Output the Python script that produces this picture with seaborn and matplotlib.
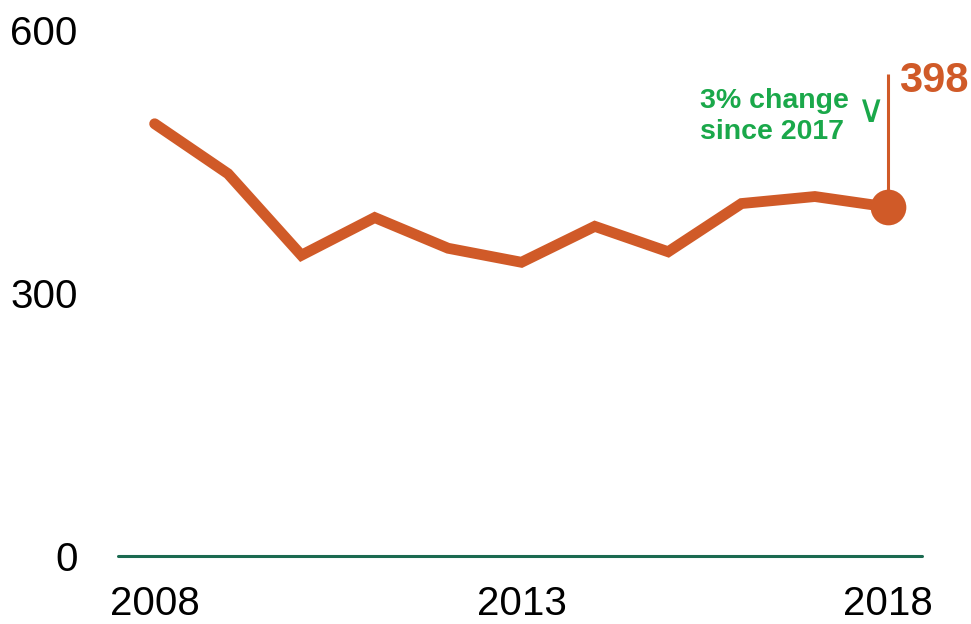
import pandas as pd
import matplotlib.pyplot as plt
import seaborn as sns

# values
years = [2008, 2009, 2010, 2011, 2012, 2013, 2014, 2015, 2016, 2017, 2018]
values = [493, 436, 343, 386, 351, 335, 376, 347, 402, 410, 398]
y_ticks = [0, 300, 600]
x_ticks = [2008, 2013, 2018]
note = "3% change\nsince 2017"

orange = "#d05a28"
green = "#1aa84a"
base_green = "#1b6a50"

df = pd.DataFrame({"year": years, "value": values})

sns.set_theme(style="white")
plt.rcParams["font.family"] = ["Liberation Sans", "DejaVu Sans"]

fig = plt.figure(figsize=(9.71, 6.24), dpi=100)
ax = fig.add_axes([0.1215, 0.109, 0.828, 0.843])

sns.lineplot(data=df, x="year", y="value", color=orange, linewidth=7.8,
             solid_capstyle="round", solid_joinstyle="miter", ax=ax)

# highlight the last point
last = df.iloc[-1]
ax.vlines(last["year"], last["value"], 550, color=orange, linewidth=2.2)
sns.scatterplot(x=[last["year"]], y=[last["value"]], color=orange, s=660,
                linewidth=0, ax=ax, zorder=5)

ax.annotate(f"{int(last['value'])}", xy=(last["year"], 550), xytext=(8, -5),
            textcoords="offset points", ha="left", va="center",
            fontsize=30, fontweight="bold", color=orange)
ax.annotate(note, xy=(last["year"], last["value"]), xytext=(-28, 65),
            textcoords="offset points", ha="right", va="center",
            multialignment="left", fontsize=20.5, fontweight="bold",
            color=green, linespacing=1.25)
ax.annotate("\u2228", xy=(last["year"], last["value"]), xytext=(-12, 69),
            textcoords="offset points", ha="center", va="center",
            fontsize=28, color=green, family=["DejaVu Sans"])

ax.axhline(0, color=base_green, linewidth=2.2, clip_on=False)

ax.set_xlim(2007.5, 2018.46)
ax.set_ylim(0, 600)
ax.set_xticks(x_ticks)
ax.set_xticklabels([str(t) for t in x_ticks])
ax.set_yticks(y_ticks)
ax.set_yticklabels([str(t) for t in y_ticks])
ax.tick_params(axis="both", length=0, labelsize=29, colors="black")
ax.tick_params(axis="y", pad=29)
ax.tick_params(axis="x", pad=21)
ax.set_xlabel("")
ax.set_ylabel("")
sns.despine(ax=ax, left=True, bottom=True)

fig.savefig("out.png", dpi=100, facecolor="white")
